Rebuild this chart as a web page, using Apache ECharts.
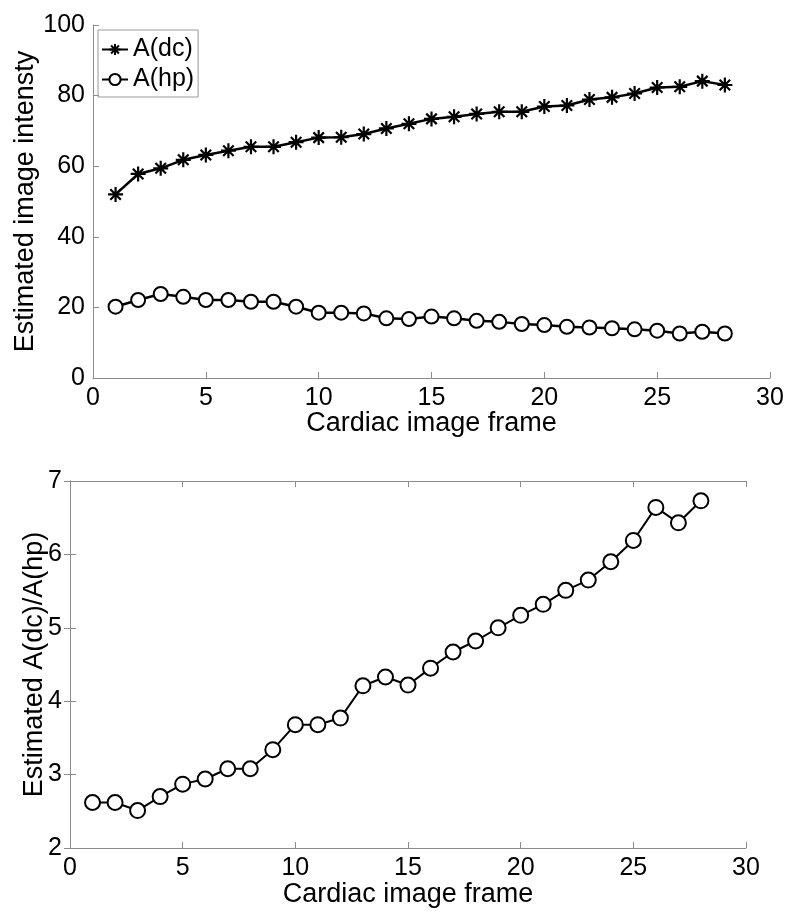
<!DOCTYPE html>
<html>
<head>
<meta charset="utf-8">
<script src="https://cdn.jsdelivr.net/npm/echarts@6/dist/echarts.min.js"></script>
<style>
  html, body { margin: 0; padding: 0; background: #fff; }
  #chart { width: 799px; height: 922px; }
</style>
</head>
<body>
<div id="chart"></div>
<script>
// frames 1..28
var frames = [1,2,3,4,5,6,7,8,9,10,11,12,13,14,15,16,17,18,19,20,21,22,23,24,25,26,27,28];
var aDc = [52,57.8,59.4,61.8,63.2,64.4,65.5,65.5,66.8,68.1,68.2,69.1,70.7,72.0,
           73.4,74.0,74.8,75.4,75.4,76.9,77.2,78.9,79.5,80.6,82.3,82.5,84.1,83.0];
var aHp = [20.2,22.1,23.8,23.0,22.1,22.1,21.6,21.6,20.2,18.5,18.5,18.3,16.9,16.7,
           17.4,16.9,16.2,15.9,15.3,15.0,14.5,14.3,14.1,13.8,13.4,12.6,13.1,12.6];
var ratio = [2.62,2.62,2.51,2.70,2.87,2.94,3.08,3.08,3.34,3.68,3.68,3.77,4.21,4.33,
             4.22,4.45,4.67,4.82,5.00,5.17,5.32,5.51,5.65,5.90,6.19,6.64,6.43,6.73];

function pairs(ys) {
  return frames.map(function (x, i) { return [x, ys[i]]; });
}

var font = "'Liberation Sans', Arial, sans-serif";
var axisGray = "#8c8c8c";
// asterisk marker like matlab '*'
var star = "path://M0,-10L0,10M-10,0L10,0M-7,-7L7,7M-7,7L7,-7";

var lbl = { color: "#000", fontSize: 25, fontFamily: font };
var nameStyle = { color: "#000", fontSize: 27, fontFamily: font };

var myChart = echarts.init(document.getElementById("chart"), null, { renderer: "canvas" });
myChart.setOption({
  animation: false,
  backgroundColor: "#fff",
  grid: [
    { left: 93, top: 25, width: 677, height: 353 },
    { left: 70, top: 481, width: 676, height: 367 }
  ],
  legend: {
    left: 98, top: 30,
    orient: "vertical",
    data: ["A(dc)", "A(hp)"],
    itemWidth: 26, itemHeight: 14,
    itemGap: 5,
    padding: [7, 4, 5, 3],
    borderColor: "#999", borderWidth: 1,
    textStyle: { color: "#000", fontSize: 25, fontFamily: font }
  },
  xAxis: [
    {
      gridIndex: 0, type: "value", min: 0, max: 30, interval: 5,
      name: "Cardiac image frame", nameLocation: "middle", nameGap: 32, nameTextStyle: nameStyle,
      nameMoveOverlap: false,
      axisLine: { lineStyle: { color: axisGray } },
      axisTick: { inside: true, length: 6, lineStyle: { color: axisGray } },
      axisLabel: lbl, splitLine: { show: false }
    },
    {
      gridIndex: 1, type: "value", min: 0, max: 30, interval: 5,
      name: "Cardiac image frame", nameLocation: "middle", nameGap: 33, nameTextStyle: nameStyle,
      nameMoveOverlap: false,
      axisLine: { lineStyle: { color: axisGray } },
      axisTick: { inside: true, length: 6, lineStyle: { color: axisGray } },
      axisLabel: lbl, splitLine: { show: false }
    },
    {
      gridIndex: 1, type: "value", min: 0, max: 30, interval: 5, position: "top",
      axisLine: { lineStyle: { color: axisGray } },
      axisTick: { inside: true, length: 6, lineStyle: { color: axisGray } },
      axisLabel: { show: false }, splitLine: { show: false }
    }
  ],
  yAxis: [
    {
      gridIndex: 0, type: "value", min: 0, max: 100, interval: 20,
      name: "Estimated image intensty", nameLocation: "middle", nameGap: 54, nameTextStyle: nameStyle,
      nameMoveOverlap: false,
      axisLine: { show: true, lineStyle: { color: axisGray } },
      axisTick: { show: true, inside: true, length: 6, lineStyle: { color: axisGray } },
      axisLabel: lbl, splitLine: { show: false }
    },
    {
      gridIndex: 1, type: "value", min: 2, max: 7, interval: 1,
      name: "Estimated A(dc)/A(hp)", nameLocation: "middle", nameGap: 22, nameTextStyle: nameStyle,
      nameMoveOverlap: false,
      axisLine: { show: true, lineStyle: { color: axisGray } },
      axisTick: { show: true, inside: true, length: 6, lineStyle: { color: axisGray } },
      axisLabel: lbl, splitLine: { show: false }
    },
    {
      gridIndex: 1, type: "value", min: 2, max: 7, interval: 1, position: "right",
      axisLine: { show: true, lineStyle: { color: axisGray } },
      axisTick: { show: true, inside: true, length: 6, lineStyle: { color: axisGray } },
      axisLabel: { show: false }, splitLine: { show: false }
    }
  ],
  series: [
    {
      name: "A(dc)", type: "line", xAxisIndex: 0, yAxisIndex: 0,
      data: pairs(aDc),
      symbol: star, symbolSize: 15,
      lineStyle: { color: "#000", width: 2.5 },
      itemStyle: { color: "none", borderColor: "#000", borderWidth: 2.2 }
    },
    {
      name: "A(hp)", type: "line", xAxisIndex: 0, yAxisIndex: 0,
      data: pairs(aHp),
      symbol: "emptyCircle", symbolSize: 14,
      lineStyle: { color: "#000", width: 2.5 },
      itemStyle: { color: "#000", borderColor: "#000", borderWidth: 2 }
    },
    {
      name: "ratio", type: "line", xAxisIndex: 1, yAxisIndex: 1,
      data: pairs(ratio),
      symbol: "emptyCircle", symbolSize: 15,
      lineStyle: { color: "#000", width: 2 },
      itemStyle: { color: "#000", borderColor: "#000", borderWidth: 2.2 }
    }
  ]
});
</script>
</body>
</html>
